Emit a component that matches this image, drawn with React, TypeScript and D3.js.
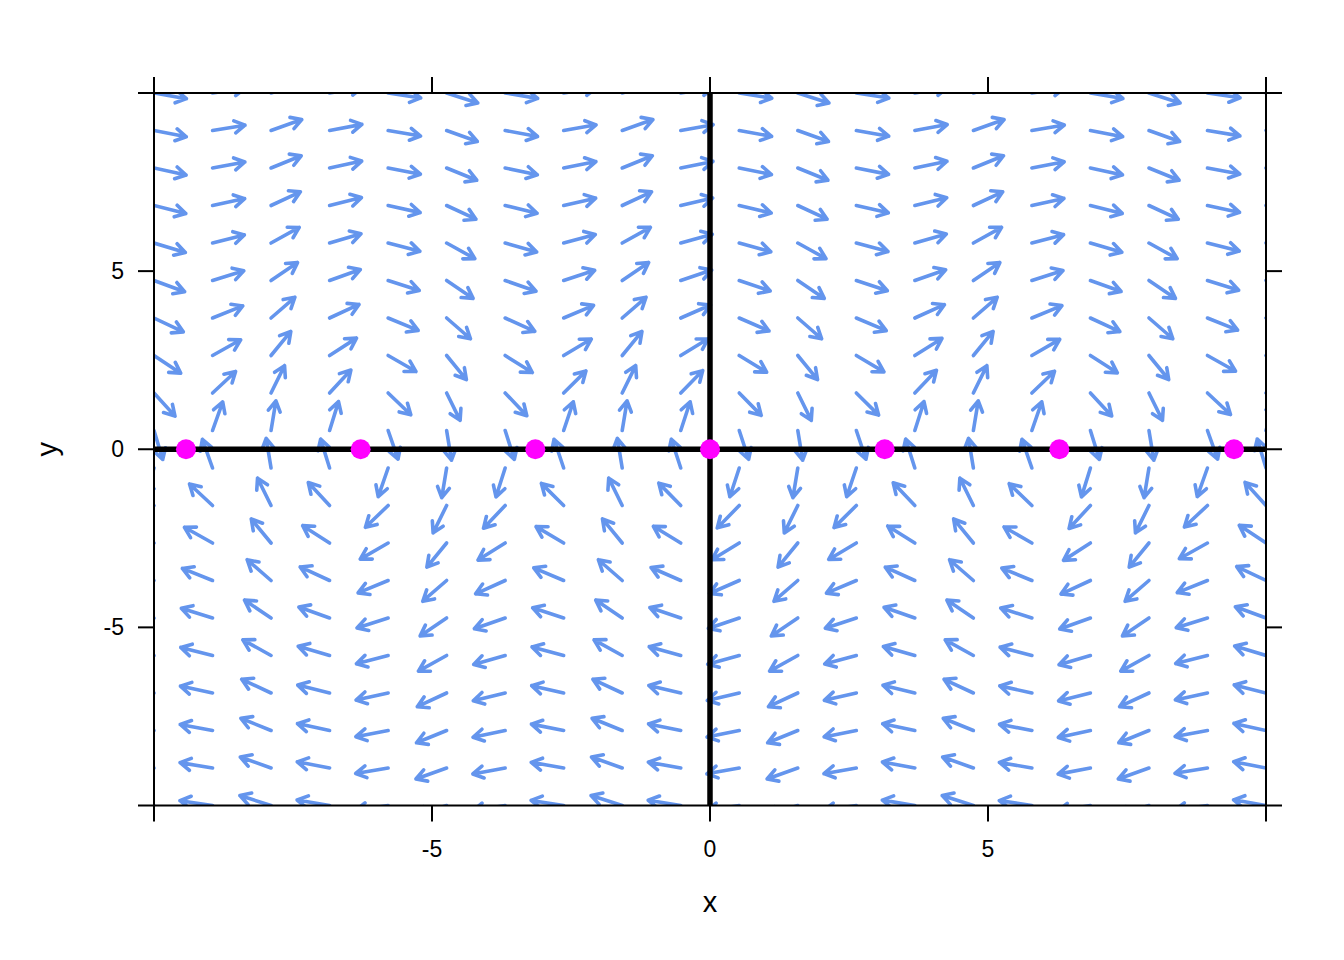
import { scaleLinear } from 'd3'

// Pendulum-type flow field: dx/dt = y, dy/dt read per column, arrows of (nearly) equal screen length.

// grid points, 20 per axis
const X_GRID = [-10, -8.947, -7.895, -6.842, -5.789, -4.737, -3.684, -2.632, -1.579, -0.526, 0.526, 1.579, 2.632, 3.684, 4.737, 5.789, 6.842, 7.895, 8.947, 10]
const Y_GRID = [-10, -8.947, -7.895, -6.842, -5.789, -4.737, -3.684, -2.632, -1.579, -0.526, 0.526, 1.579, 2.632, 3.684, 4.737, 5.789, 6.842, 7.895, 8.947, 10]
// horizontal rate for each row (same as the row's y)
const X_RATE = [-10, -8.947, -7.895, -6.842, -5.789, -4.737, -3.684, -2.632, -1.579, -0.526, 0.526, 1.579, 2.632, 3.684, 4.737, 5.789, 6.842, 7.895, 8.947, 10]
// vertical rate for each column
const Y_RATE = [-2.72, 2.297, 4.996, 2.651, -2.37, -4.999, -2.582, 2.441, 5.0, 2.511, -2.511, -5.0, -2.441, 2.582, 4.999, 2.37, -2.651, -4.996, -2.297, 2.72]
// equilibrium points on y = 0
const EQ_X = [-9.425, -6.283, -3.142, 0, 3.142, 6.283, 9.425]
const AXIS_TICKS = [-10, -5, 0, 5, 10]
const LABELLED_TICKS = [-5, 0, 5]

const W = 1344
const H = 960
const LEFT = 154
const RIGHT = 1266
const TOP = 93
const BOTTOM = 805.5
const TICK_LEN = 16
const ARROW_COLOR = '#6495ED'
const FONT = 'Arial, "Liberation Sans", sans-serif'

export default function App() {
  const xScale = scaleLinear().domain([-10, 10]).range([LEFT, RIGHT])
  const yScale = scaleLinear().domain([-10, 10]).range([BOTTOM, TOP])
  const sx = xScale(1) - xScale(0)
  const sy = yScale(0) - yScale(1)

  const arrows: string[] = []
  Y_GRID.forEach((yv, j) => {
    X_GRID.forEach((xv, i) => {
      const vx = X_RATE[j] * sx
      const vy = -Y_RATE[i] * sy
      const n = Math.hypot(vx, vy)
      if (n === 0) return
      const c = vx / n
      const s = vy / n
      // slightly longer when horizontal than vertical
      const len = 1 / Math.sqrt((c / 33) ** 2 + (s / 30) ** 2)
      const x0 = xScale(xv)
      const y0 = yScale(yv)
      const x1 = x0 + c * len
      const y1 = y0 + s * len
      const ang = Math.atan2(s, c)
      const hl = 12
      const a1 = ang + Math.PI - Math.PI / 6
      const a2 = ang + Math.PI + Math.PI / 6
      arrows.push(
        `M${x0},${y0}L${x1},${y1}M${x1 + hl * Math.cos(a1)},${y1 + hl * Math.sin(a1)}L${x1},${y1}L${x1 + hl * Math.cos(a2)},${y1 + hl * Math.sin(a2)}`,
      )
    })
  })

  return (
    <div style={{ position: 'absolute', left: 0, top: 0 }}>
      <svg width={W} height={H} viewBox={`0 0 ${W} ${H}`} style={{ display: 'block', background: '#fff' }}>
        <defs>
          <clipPath id="plot-clip">
            <rect x={LEFT} y={TOP} width={RIGHT - LEFT} height={BOTTOM - TOP} />
          </clipPath>
        </defs>
        <g clipPath="url(#plot-clip)">
          {arrows.map((d, k) => (
            <path key={k} d={d} fill="none" stroke={ARROW_COLOR} strokeWidth={3.6} strokeLinecap="round" strokeLinejoin="round" />
          ))}
          <line x1={LEFT} x2={RIGHT} y1={yScale(0)} y2={yScale(0)} stroke="#000" strokeWidth={5.5} />
          <line x1={xScale(0)} x2={xScale(0)} y1={TOP} y2={BOTTOM} stroke="#000" strokeWidth={5.5} />
        </g>
        {EQ_X.map((xv) => (
          <circle key={xv} cx={xScale(xv)} cy={yScale(0)} r={10} fill="#FF00FF" />
        ))}
        <rect x={LEFT} y={TOP} width={RIGHT - LEFT} height={BOTTOM - TOP} fill="none" stroke="#000" strokeWidth={2} />
        <g stroke="#000" strokeWidth={2}>
          {AXIS_TICKS.map((t) => (
            <g key={t}>
              <line x1={xScale(t)} x2={xScale(t)} y1={BOTTOM} y2={BOTTOM + TICK_LEN} />
              <line x1={xScale(t)} x2={xScale(t)} y1={TOP} y2={TOP - TICK_LEN} />
              <line x1={LEFT} x2={LEFT - TICK_LEN} y1={yScale(t)} y2={yScale(t)} />
              <line x1={RIGHT} x2={RIGHT + TICK_LEN} y1={yScale(t)} y2={yScale(t)} />
            </g>
          ))}
        </g>
        <g fontFamily={FONT} fontSize={23} fill="#000">
          {LABELLED_TICKS.map((t) => (
            <text key={`x${t}`} x={xScale(t)} y={857} textAnchor="middle">
              {t}
            </text>
          ))}
          {LABELLED_TICKS.map((t) => (
            <text key={`y${t}`} x={124} y={yScale(t)} textAnchor="end" dominantBaseline="central">
              {t}
            </text>
          ))}
        </g>
        <text x={xScale(0)} y={912} textAnchor="middle" fontFamily={FONT} fontSize={29}>
          x
        </text>
        <text
          x={0}
          y={0}
          transform={`translate(57, ${yScale(0)}) rotate(-90)`}
          textAnchor="middle"
          fontFamily={FONT}
          fontSize={29}
        >
          y
        </text>
      </svg>
    </div>
  )
}
